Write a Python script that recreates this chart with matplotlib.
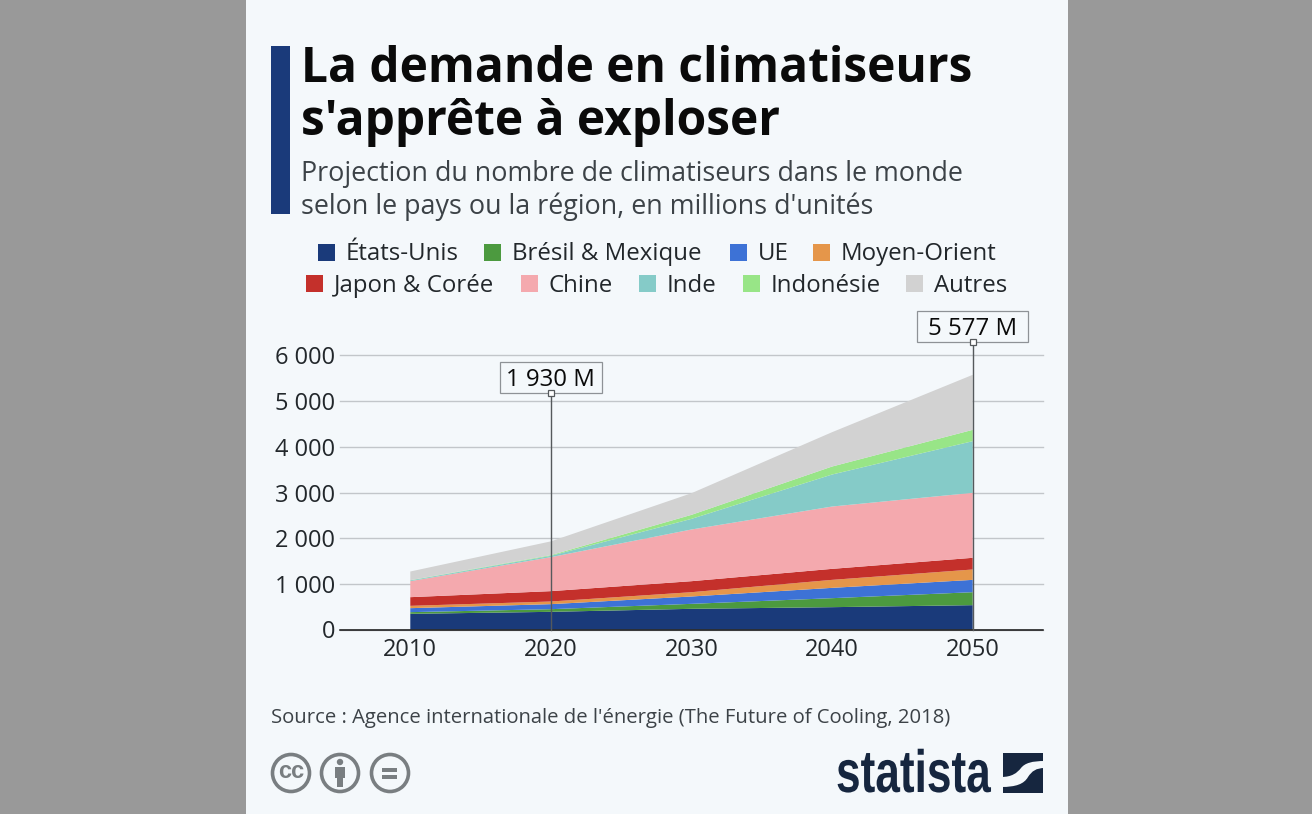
import matplotlib
matplotlib.use("Agg")
import matplotlib.pyplot as plt
import matplotlib.patheffects as pe
from matplotlib.patches import Rectangle, Circle, PathPatch
from matplotlib.path import Path
from matplotlib.transforms import Affine2D

# ---------- data ----------
years = [2010, 2020, 2030, 2040, 2050]
etats_unis = [343, 387, 453, 489, 533]
bresil_mexique = [37, 58, 109, 197, 284]
ue = [87, 110, 161, 226, 270]
moyen_orient = [51, 58, 94, 175, 227]
japon_coree = [190, 227, 241, 241, 256]
chine = [350, 744, 1132, 1365, 1423]
inde = [17, 29, 233, 701, 1131]
indonesie = [5, 15, 88, 175, 248]
autres = [190, 302, 474, 752, 1205]

series_names = ["États-Unis", "Brésil & Mexique", "UE", "Moyen-Orient",
                "Japon & Corée", "Chine", "Inde", "Indonésie", "Autres"]
y_ticks = [0, 1000, 2000, 3000, 4000, 5000, 6000]
y_tick_labels = ["0", "1 000", "2 000", "3 000", "4 000", "5 000", "6 000"]
callout_years = [2020, 2050]
callout_labels = ["1 930 M", "5 577 M"]

colors = ["#1a3a7a", "#4c9a3f", "#3d72d6", "#e5964a", "#c4302b",
          "#f4a9ae", "#85cbc8", "#98e587", "#d2d2d2"]

plt.rcParams["font.family"] = ["Open Sans", "DejaVu Sans"]
W, H = 1312, 814
PANEL = "#f4f8fb"
TXT = "#0a0a0a"
GREY = "#797e81"
fig = plt.figure(figsize=(W / 100, H / 100), dpi=100, facecolor="#999999")


class SqueezeX(pe.AbstractPathEffect):
    # narrows the glyphs around a pixel x, the logo font is condensed
    def __init__(self, x0, sx):
        super().__init__()
        self.x0 = x0
        self.sx = sx

    def draw_path(self, renderer, gc, tpath, affine, rgbFace=None):
        squeeze = Affine2D().translate(-self.x0, 0).scale(self.sx, 1).translate(self.x0, 0)
        renderer.draw_path(gc, tpath, affine + squeeze, rgbFace)


# overlay in pixel coordinates for everything around the chart
bg = fig.add_axes([0, 0, 1, 1], zorder=0)
bg.set_xlim(0, W)
bg.set_ylim(H, 0)
bg.axis("off")
bg.add_patch(Rectangle((246, 0), 822, H, color=PANEL, lw=0))
bg.add_patch(Rectangle((271, 46), 19, 168, color="#1a3a7a", lw=0))

bg.text(301, 70, "La demande en climatiseurs", fontsize=34.5, fontweight="bold", color=TXT, va="center")
bg.text(301, 122.5, "s'apprête à exploser", fontsize=34.5, fontweight="bold", color=TXT, va="center")
bg.text(301, 174, "Projection du nombre de climatiseurs dans le monde", fontsize=19.35, color="#3c4247", va="center")
bg.text(301, 207, "selon le pays ou la région, en millions d'unités", fontsize=19.35, color="#3c4247", va="center")

# legend
swatch_x = [318, 484, 730, 813, 306, 521, 639, 743, 906]
swatch_y = [252, 252, 252, 252, 283, 283, 283, 283, 283]
for name, col, sx, sy in zip(series_names, colors, swatch_x, swatch_y):
    bg.add_patch(Rectangle((sx, sy - 8.5), 17, 17, color=col, lw=0))
    bg.text(sx + 28, sy + 2.5, name, fontsize=17.3, color="#22272b", va="center")

bg.text(271, 718, "Source : Agence internationale de l'énergie (The Future of Cooling, 2018)",
        fontsize=14.6, color="#3c4247", va="center")

# licence icons
for cx in [291, 340, 390]:
    bg.add_patch(Circle((cx, 773), 18.5, fc="none", ec=GREY, lw=2.6))
bg.text(291, 772, "cc", fontsize=17, fontweight="bold", color=GREY, ha="center", va="center",
        family=["Liberation Sans", "DejaVu Sans"])
bg.add_patch(Circle((340, 762), 3.2, color=GREY, lw=0))
bg.add_patch(Rectangle((335, 766.5), 10, 11.5, color=GREY, lw=0))
bg.add_patch(Rectangle((337, 777), 6, 10, color=GREY, lw=0))
bg.add_patch(Rectangle((382, 768), 15, 3.5, color=GREY, lw=0))
bg.add_patch(Rectangle((382, 775), 15, 3.5, color=GREY, lw=0))

# logo
bg.text(836, 792, "statista", fontsize=43, fontweight="bold", color="#16263f", ha="left", va="baseline",
        family=["Liberation Sans", "DejaVu Sans"], path_effects=[SqueezeX(836, 0.74)])
bg.add_patch(Rectangle((1003, 753), 40, 40, color="#16263f", lw=0))
s_curve = Path([(1001, 777), (1012, 777), (1017, 773), (1021, 768), (1025, 763), (1032, 761), (1045, 761),
                (1045, 768), (1036, 768), (1032, 771), (1028, 777), (1024, 784), (1016, 787), (1001, 787),
                (1001, 777)],
               [Path.MOVETO, Path.CURVE4, Path.CURVE4, Path.CURVE4, Path.CURVE4, Path.CURVE4, Path.CURVE4,
                Path.LINETO, Path.CURVE4, Path.CURVE4, Path.CURVE4, Path.CURVE4, Path.CURVE4, Path.CURVE4,
                Path.CLOSEPOLY])
bg.add_patch(PathPatch(s_curve, fc=PANEL, ec="none"))

# ---------- chart ----------
ax = fig.add_axes([340 / W, 1 - 629.5 / H, 703 / W, 274 / H], zorder=1)
ax.patch.set_alpha(0)
ax.set_xlim(2005, 2055)
ax.set_ylim(0, 6000)
ax.stackplot(years, etats_unis, bresil_mexique, ue, moyen_orient, japon_coree,
             chine, inde, indonesie, autres, colors=colors, lw=0, zorder=2)

ax.set_yticks(y_ticks, y_tick_labels)
ax.set_xticks(years, [str(y) for y in years])
ax.tick_params(length=0, labelsize=17, labelcolor="#22272b")
ax.tick_params(axis="x", pad=6)
ax.tick_params(axis="y", pad=3.5)
ax.grid(axis="y", color="#c2c6ca", lw=1.0, zorder=1)
ax.set_axisbelow(True)
for line in ax.get_ygridlines():
    line.set_clip_on(False)
for side in ["top", "left", "right"]:
    ax.spines[side].set_visible(False)
ax.spines["bottom"].set_color("#111111")
ax.spines["bottom"].set_linewidth(1.1)
ax.spines["bottom"].set_zorder(3)

# callouts, box sizes in data units (14.06 px per year, 0.04567 px per unit)
callout_tops = [5179, 6295]
box_widths = [7.25, 7.9]
box_height = 679
for yr, label, top, bw in zip(callout_years, callout_labels, callout_tops, box_widths):
    ax.plot([yr, yr], [0, top], color="#55595c", lw=1, clip_on=False, zorder=4)
    ax.add_patch(Rectangle((yr - bw / 2, top), bw, box_height, fc=PANEL, ec="#8e9296", lw=0.9,
                           clip_on=False, zorder=5))
    ax.plot([yr], [top], marker="s", ms=4.5, mfc="white", mec="#55595c", mew=0.9, clip_on=False, zorder=6)
    ax.text(yr, top + box_height / 2 - 50, label, ha="center", va="center", fontsize=17.3, color=TXT,
            clip_on=False, zorder=6)

fig.savefig("out.png", dpi=100, facecolor=fig.get_facecolor())
